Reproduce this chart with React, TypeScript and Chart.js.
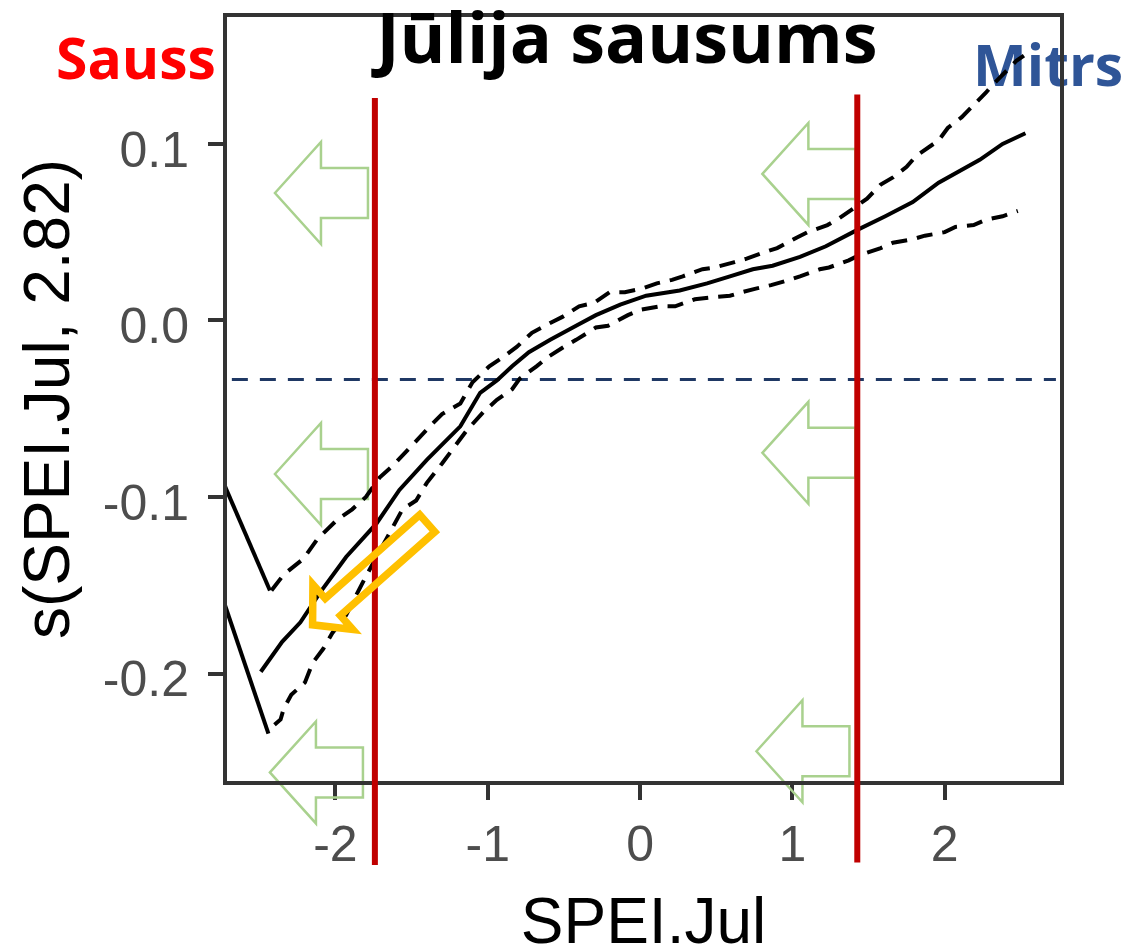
import React, { useEffect, useRef } from 'react';
import { Chart, registerables } from 'chart.js';

Chart.register(...registerables);

// ---- data ----
const xTickValues = [-2, -1, 0, 1, 2];
const xTickLabels = ['-2', '-1', '0', '1', '2'];
const yTickValues = [-0.2, -0.1, 0, 0.1];
const yTickLabels = ['-0.2', '-0.1', '0.0', '0.1'];

const fitX = [-2.49, -2.35, -2.23, -2.10, -1.93, -1.73, -1.58, -1.40, -1.18, -1.05, -0.94, -0.84, -0.73, -0.59, -0.42, -0.29, -0.13, 0.04, 0.26, 0.44, 0.59, 0.74, 0.87, 1.05, 1.22, 1.42, 1.61, 1.79, 1.96, 2.23, 2.38, 2.53];
const fitY = [-0.199, -0.182, -0.171, -0.154, -0.134, -0.115, -0.096, -0.079, -0.060, -0.041, -0.034, -0.026, -0.018, -0.011, -0.003, 0.003, 0.009, 0.014, 0.017, 0.021, 0.025, 0.029, 0.031, 0.036, 0.042, 0.051, 0.059, 0.067, 0.078, 0.091, 0.100, 0.106];

const upperX = [-2.42, -2.34, -2.21, -2.12, -1.99, -1.89, -1.80, -1.71, -1.62, -1.38, -1.30, -1.18, -1.10, -0.99, -0.92, -0.81, -0.71, -0.58, -0.51, -0.40, -0.30, -0.20, -0.10, 0.01, 0.11, 0.21, 0.28, 0.41, 0.49, 0.62, 0.70, 0.83, 0.90, 1.03, 1.10, 1.23, 1.31, 1.41, 1.49, 1.58, 1.66, 1.75, 1.81, 1.96, 2.02, 2.11, 2.19, 2.27, 2.31, 2.47, 2.52];
const upperY = [-0.153, -0.144, -0.135, -0.124, -0.113, -0.107, -0.100, -0.089, -0.082, -0.060, -0.053, -0.047, -0.035, -0.026, -0.022, -0.015, -0.007, -0.001, 0.002, 0.008, 0.010, 0.016, 0.016, 0.018, 0.021, 0.023, 0.025, 0.029, 0.030, 0.033, 0.035, 0.039, 0.041, 0.047, 0.050, 0.054, 0.058, 0.064, 0.069, 0.077, 0.081, 0.087, 0.093, 0.102, 0.109, 0.115, 0.122, 0.129, 0.133, 0.147, 0.150];

const lowerX = [-2.40, -2.36, -2.34, -2.29, -2.20, -2.15, -2.08, -2.02, -1.93, -1.86, -1.80, -1.73, -1.56, -1.47, -1.40, -1.30, -1.14, -1.03, -0.94, -0.84, -0.79, -0.68, -0.61, -0.50, -0.42, -0.29, -0.21, -0.08, 0.00, 0.13, 0.23, 0.36, 0.46, 0.59, 0.67, 0.76, 0.86, 0.98, 1.05, 1.18, 1.24, 1.37, 1.44, 1.58, 1.66, 1.79, 1.87, 2.00, 2.07, 2.19, 2.27, 2.38, 2.48];
const lowerY = [-0.229, -0.226, -0.220, -0.212, -0.205, -0.194, -0.186, -0.177, -0.167, -0.155, -0.145, -0.134, -0.107, -0.102, -0.092, -0.081, -0.0625, -0.052, -0.045, -0.039, -0.033, -0.026, -0.021, -0.015, -0.011, -0.004, -0.003, 0.003, 0.006, 0.008, 0.008, 0.012, 0.013, 0.014, 0.016, 0.018, 0.020, 0.023, 0.025, 0.029, 0.030, 0.034, 0.037, 0.041, 0.044, 0.046, 0.048, 0.050, 0.053, 0.054, 0.057, 0.059, 0.062];

const edgeAX = [-2.73, -2.43];
const edgeAY = [-0.093, -0.153];
const edgeBX = [-2.73, -2.44];
const edgeBY = [-0.160, -0.234];

const refLineX = [-2.68, 2.73];
const refLineValue = -0.0335;

const redLineX = [-1.741, 1.426];
const redLineTop = [0.126, 0.128];
const redLineBottom = [-0.3085, -0.307];

const greenArrowX = [-2.397, 0.803, -2.397, 0.803, -2.43, 0.764];
const greenArrowY = [0.0722, 0.083, -0.087, -0.075, -0.256, -0.244];

const yellowTail = [-1.397, -0.1149];
const yellowTip = [-2.150, -0.1724];

const titleText = 'Jūlija sausums';
const leftLabel = 'Sauss';
const rightLabel = 'Mitrs';
const xTitle = 'SPEI.Jul';
const yTitle = 's(SPEI.Jul, 2.82)';

const pts = (xs: number[], ys: number[]) => xs.map((x, i) => ({ x, y: ys[i] }));

const SANS = "'Liberation Sans', Arial, sans-serif";
const BOLD = "'Open Sans', 'Noto Sans', sans-serif";

const decor = {
  id: 'decor',
  beforeDatasetsDraw(chart: any) {
    const { ctx, scales } = chart;
    const xs = scales.x, ys = scales.y;
    ctx.save();
    ctx.strokeStyle = '#A9D18E';
    ctx.lineWidth = 2.5;
    ctx.lineJoin = 'miter';
    greenArrowX.forEach((gx, i) => {
      const tx = xs.getPixelForValue(gx);
      const ty = ys.getPixelForValue(greenArrowY[i]);
      const hl = 46, hh = 51, bh = 25, w = 93;
      ctx.beginPath();
      ctx.moveTo(tx, ty);
      ctx.lineTo(tx + hl, ty - hh);
      ctx.lineTo(tx + hl, ty - bh);
      ctx.lineTo(tx + w, ty - bh);
      ctx.lineTo(tx + w, ty + bh);
      ctx.lineTo(tx + hl, ty + bh);
      ctx.lineTo(tx + hl, ty + hh);
      ctx.closePath();
      ctx.stroke();
    });
    ctx.fillStyle = '#2F5597';
    ctx.font = `bold 57px ${BOLD}`;
    ctx.textAlign = 'left';
    ctx.textBaseline = 'alphabetic';
    ctx.fillText(rightLabel, 973, 86);
    ctx.restore();
  },
  afterDatasetsDraw(chart: any) {
    const { ctx, scales, chartArea } = chart;
    const xs = scales.x, ys = scales.y;
    ctx.save();
    ctx.strokeStyle = '#333333';
    ctx.lineWidth = 4;
    ctx.strokeRect(chartArea.left, chartArea.top, chartArea.right - chartArea.left, chartArea.bottom - chartArea.top);
    ctx.strokeStyle = '#C00000';
    ctx.lineWidth = 6;
    ctx.setLineDash([]);
    redLineX.forEach((rx, i) => {
      const px = xs.getPixelForValue(rx);
      ctx.beginPath();
      ctx.moveTo(px, ys.getPixelForValue(redLineTop[i]));
      ctx.lineTo(px, ys.getPixelForValue(redLineBottom[i]));
      ctx.stroke();
    });
    const tx = xs.getPixelForValue(yellowTail[0]);
    const ty = ys.getPixelForValue(yellowTail[1]);
    const px = xs.getPixelForValue(yellowTip[0]);
    const py = ys.getPixelForValue(yellowTip[1]);
    const L = Math.hypot(px - tx, py - ty);
    const ang = Math.atan2(py - ty, px - tx);
    const sw = 11.4, hw = 30, hb = L - 27;
    ctx.translate(tx, ty);
    ctx.rotate(ang);
    ctx.strokeStyle = '#FFC000';
    ctx.lineWidth = 7.5;
    ctx.lineJoin = 'miter';
    ctx.beginPath();
    ctx.moveTo(0, -sw);
    ctx.lineTo(hb, -sw);
    ctx.lineTo(hb, -hw);
    ctx.lineTo(L, 0);
    ctx.lineTo(hb, hw);
    ctx.lineTo(hb, sw);
    ctx.lineTo(0, sw);
    ctx.closePath();
    ctx.stroke();
    ctx.restore();

    ctx.save();
    ctx.textAlign = 'center';
    ctx.textBaseline = 'alphabetic';
    ctx.fillStyle = '#000000';
    ctx.font = `bold 70px ${BOLD}`;
    ctx.fillText(titleText, 627, 63);
    ctx.textAlign = 'left';
    ctx.fillStyle = '#FF0000';
    ctx.font = `bold 57px ${BOLD}`;
    ctx.fillText(leftLabel, 56, 79);
    ctx.restore();
  },
};

export default function App() {
  const ref = useRef<HTMLCanvasElement | null>(null);
  useEffect(() => {
    if (!ref.current) return;
    const solid = { borderColor: '#000000', borderWidth: 4, pointRadius: 0, fill: false, tension: 0 };
    const dashed = { ...solid, borderDash: [16, 10] };
    const chart = new Chart(ref.current, {
      type: 'line',
      data: {
        datasets: [
          { data: pts(fitX, fitY), ...solid },
          { data: pts(upperX, upperY), ...dashed },
          { data: pts(lowerX, lowerY), ...dashed },
          { data: pts(edgeAX, edgeAY), ...solid },
          { data: pts(edgeBX, edgeBY), ...solid },
          {
            data: refLineX.map((x) => ({ x, y: refLineValue })),
            borderColor: '#1F3864', borderWidth: 3, borderDash: [16, 12], pointRadius: 0, fill: false,
          },
        ] as any,
      },
      options: {
        animation: false,
        responsive: false,
        events: [],
        layout: { padding: { top: 15, right: 64, left: 0, bottom: 0 } },
        plugins: { legend: { display: false }, tooltip: { enabled: false }, title: { display: false } },
        scales: {
          x: {
            type: 'linear',
            min: -2.725,
            max: 2.77,
            afterFit: (s: any) => { s.height = 168; s.paddingLeft = 0; s.paddingRight = 0; },
            afterBuildTicks: (s: any) => { s.ticks = xTickValues.map((v) => ({ value: v })); },
            ticks: {
              callback: (_v: any, i: number) => xTickLabels[i],
              font: { family: SANS, size: 50 },
              color: '#4D4D4D',
              padding: 17,
              maxRotation: 0,
              autoSkip: false,
            },
            grid: { drawOnChartArea: false, drawTicks: true, tickLength: 17, color: '#333333', lineWidth: 4 },
            border: { display: false },
            title: {
              display: true, text: xTitle, color: '#000000',
              font: { family: SANS, size: 64, lineHeight: 0.8 },
              padding: { top: 0, bottom: 0 },
            },
          },
          y: {
            type: 'linear',
            min: -0.262,
            max: 0.173,
            afterFit: (s: any) => { s.width = 225; s.paddingTop = 0; s.paddingBottom = 0; },
            afterBuildTicks: (s: any) => { s.ticks = yTickValues.map((v) => ({ value: v })); },
            ticks: {
              callback: (_v: any, i: number) => yTickLabels[i],
              font: { family: SANS, size: 50 },
              color: '#4D4D4D',
              padding: 19,
              labelOffset: 9,
              autoSkip: false,
            },
            grid: { drawOnChartArea: false, drawTicks: true, tickLength: 17, color: '#333333', lineWidth: 4 },
            border: { display: false },
            title: {
              display: true, text: yTitle, color: '#000000',
              font: { family: SANS, size: 64, lineHeight: 0.8 },
              padding: { top: 26, bottom: 0 },
            },
          },
        },
      } as any,
      plugins: [decor],
    });
    return () => chart.destroy();
  }, []);
  return (
    <div style={{ position: 'absolute', left: 0, top: 0, width: 1126, height: 951, background: '#ffffff' }}>
      <canvas ref={ref} width={1126} height={951} style={{ display: 'block', width: 1126, height: 951 }} />
    </div>
  );
}
